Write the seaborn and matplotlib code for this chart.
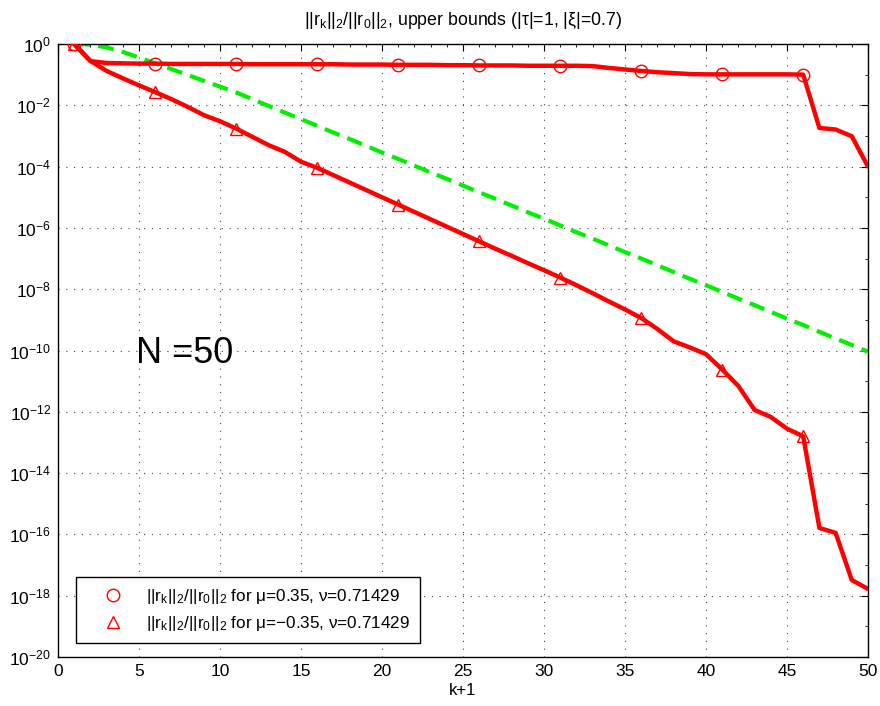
import numpy as np
import pandas as pd
import matplotlib
matplotlib.use("Agg")
import matplotlib.pyplot as plt
import matplotlib.ticker as mticker
from matplotlib.lines import Line2D
import seaborn as sns

# ---- data (log10 of values) ----
k_plus_1 = list(range(1, 51))

log_res_pos = [0.0, -0.56, -0.62, -0.63, -0.64, -0.64, -0.65, -0.65, -0.65, -0.65,
               -0.65, -0.66, -0.66, -0.66, -0.66, -0.66, -0.66, -0.67, -0.67, -0.67,
               -0.68, -0.68, -0.68, -0.69, -0.69, -0.70, -0.70, -0.70, -0.71, -0.71,
               -0.71, -0.71, -0.72, -0.78, -0.83, -0.88, -0.92, -0.95, -0.98, -0.99,
               -0.99, -0.99, -0.99, -0.99, -0.99, -1.00, -2.74, -2.79, -3.01, -4.00]

log_res_neg = [0.0, -0.55, -0.88, -1.12, -1.35, -1.57, -1.80, -2.05, -2.32, -2.52,
               -2.76, -3.03, -3.30, -3.52, -3.84, -4.04, -4.28, -4.52, -4.76, -5.00,
               -5.24, -5.48, -5.72, -5.96, -6.20, -6.44, -6.68, -6.91, -7.15, -7.38,
               -7.62, -7.87, -8.13, -8.40, -8.66, -8.94, -9.30, -9.70, -9.90, -10.12,
               -10.62, -11.16, -11.94, -12.17, -12.55, -12.80, -15.79, -15.95, -17.49, -17.78]

log_bound = [0.0, -0.02, -0.11, -0.26, -0.44, -0.63, -0.82, -1.01, -1.20, -1.39,
             -1.58, -1.80, -2.02, -2.24, -2.45, -2.67, -2.89, -3.10, -3.32, -3.54,
             -3.75, -3.97, -4.19, -4.40, -4.62, -4.84, -5.05, -5.27, -5.49, -5.70,
             -5.92, -6.14, -6.35, -6.57, -6.79, -7.00, -7.22, -7.44, -7.66, -7.87,
             -8.09, -8.31, -8.52, -8.74, -8.96, -9.17, -9.39, -9.61, -9.82, -10.04]

label_pos = r"$\mathrm{||r_k||_2/||r_0||_2}$ for μ=0.35, ν=0.71429"
label_neg = r"$\mathrm{||r_k||_2/||r_0||_2}$ for μ=−0.35, ν=0.71429"
title_text = r"$\mathrm{||r_k||_2/||r_0||_2}$, upper bounds (|τ|=1, |ξ|=0.7)"
xticks = list(range(0, 51, 5))
yexp_major = list(range(0, -21, -2))

df = pd.DataFrame({
    "k": k_plus_1,
    "pos": 10.0 ** np.array(log_res_pos),
    "neg": 10.0 ** np.array(log_res_neg),
    "bound": 10.0 ** np.array(log_bound),
})

sns.set_theme(style="white")
plt.rcParams["font.family"] = ["Liberation Sans", "DejaVu Sans"]
plt.rcParams["mathtext.fontset"] = "custom"
plt.rcParams["mathtext.rm"] = "Liberation Sans"
plt.rcParams["mathtext.it"] = "Liberation Sans"
plt.rcParams["mathtext.bf"] = "Liberation Sans:bold"
plt.rcParams["text.color"] = "black"
plt.rcParams["axes.labelcolor"] = "black"
plt.rcParams["xtick.color"] = "black"
plt.rcParams["ytick.color"] = "black"

fig = plt.figure(figsize=(8.8, 7.06), dpi=100)
ax = fig.add_axes([58 / 880, 1 - 657 / 706, 810 / 880, 613 / 706])

red = "#ff0000"
green = "#00f000"

sns.lineplot(data=df, x="k", y="bound", ax=ax, color=green, linewidth=3.0,
             dashes=False, linestyle=(0, (3.8, 2.0)), zorder=2)
sns.lineplot(data=df, x="k", y="pos", ax=ax, color=red, linewidth=3.2,
             marker="o", markevery=5, markersize=9, markerfacecolor="none",
             markeredgecolor=red, markeredgewidth=1.0, zorder=3)
sns.lineplot(data=df, x="k", y="neg", ax=ax, color=red, linewidth=3.2,
             marker="^", markevery=5, markersize=9, markerfacecolor="none",
             markeredgecolor=red, markeredgewidth=1.0, zorder=3)

ax.set_yscale("log")
ax.set_xlim(0, 50)
ax.set_ylim(1e-20, 1.0)
ax.set_xticks(xticks)
ax.set_yticks([10.0 ** e for e in yexp_major])
ax.yaxis.set_major_formatter(mticker.LogFormatterSciNotation())
ax.yaxis.set_minor_locator(mticker.FixedLocator([10.0 ** e for e in range(-1, -20, -2)]))
ax.yaxis.set_minor_formatter(mticker.NullFormatter())
ax.xaxis.set_minor_locator(mticker.MultipleLocator(1))

ax.grid(True, which="major", color="#444444", linestyle=(0, (1, 6)), linewidth=0.8)
ax.tick_params(which="major", direction="in", length=5, width=0.8,
               top=True, right=True, labelsize=12.5, colors="black", pad=5)
ax.tick_params(which="minor", direction="in", length=2.5, width=0.6,
               top=True, right=True)
for s in ax.spines.values():
    s.set_color("black")
    s.set_linewidth(1.0)

ax.set_xlabel("k+1", fontsize=12, labelpad=3)
ax.set_ylabel("")
ax.set_title(title_text, fontsize=12.8, pad=14, color="black")

ax.text(4.8, 10 ** -10.1, "N =50", fontsize=26, ha="left", va="center", color="black")

handles = [
    Line2D([], [], linestyle="none", marker="o", markersize=9,
           markerfacecolor="none", markeredgecolor=red, markeredgewidth=1.0),
    Line2D([], [], linestyle="none", marker="^", markersize=9,
           markerfacecolor="none", markeredgecolor=red, markeredgewidth=1.0),
]
leg = ax.legend(handles, [label_pos, label_neg], loc="lower left",
                bbox_to_anchor=(0.022, 0.023), borderaxespad=0, fontsize=12.3,
                frameon=True, fancybox=False, edgecolor="black", framealpha=1,
                handlelength=3.2, handletextpad=0.3, borderpad=0.6, labelspacing=0.45)
leg.get_frame().set_linewidth(1.0)

fig.savefig("out.png", dpi=100)
